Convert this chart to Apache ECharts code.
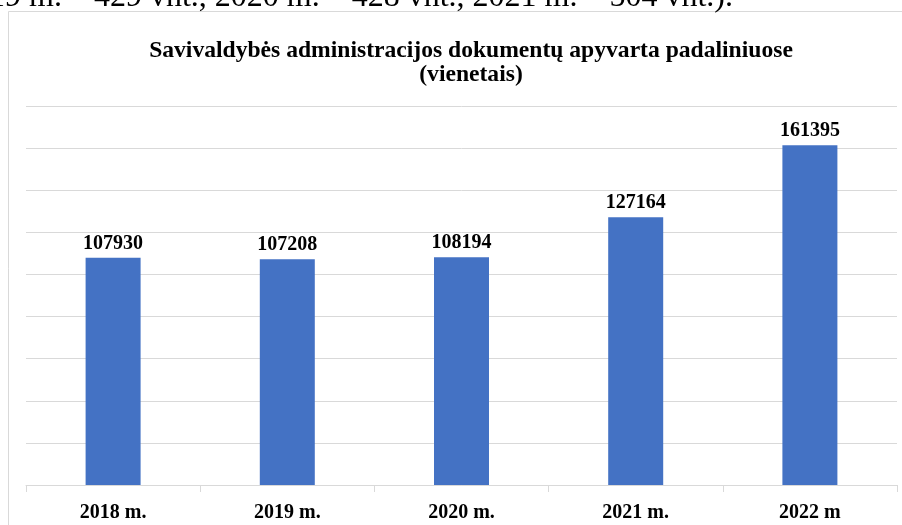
<!DOCTYPE html>
<html>
<head>
<meta charset="utf-8">
<script src="https://cdn.jsdelivr.net/npm/echarts@6/dist/echarts.min.js"></script>
<style>
  html, body { margin: 0; padding: 0; background: #ffffff; }
  #chart { width: 902px; height: 525px; }
</style>
</head>
<body>
<div id="chart"></div>
<script>
// Document flow per year (units)
const categories = ['2018 m.', '2019 m.', '2020 m.', '2021 m.', '2022 m'];
const values = [107930, 107208, 108194, 127164, 161395];
const titleLines = ['Savivaldybės administracijos dokumentų apyvarta padaliniuose', '(vienetais)'];
const precedingText = '2019 m. – 429 vnt., 2020 m. – 428 vnt., 2021 m. – 504 vnt.).';

const serif = '"Liberation Serif", "Times New Roman", serif';
const gridGray = '#d9d9d9';

const chart = echarts.init(document.getElementById('chart'), null, { renderer: 'canvas' });

chart.setOption({
  animation: false,
  backgroundColor: '#ffffff',
  title: {
    text: titleLines.join('\n'),
    left: 466,
    top: 34,
    textAlign: 'center',
    textStyle: {
      fontFamily: serif,
      fontWeight: 'bold',
      fontSize: 23.6,
      lineHeight: 24,
      color: '#000000'
    }
  },
  graphic: [
    {
      // tail of the paragraph sitting above the chart frame
      type: 'text',
      x: 733,
      y: 14,
      style: {
        text: precedingText,
        fontFamily: serif,
        fontSize: 32,
        fill: '#000000',
        textAlign: 'right',
        textVerticalAlign: 'bottom'
      },
      z: 10
    },
    {
      type: 'rect',
      shape: { x: 8.5, y: 11.5, width: 1000, height: 1000 },
      style: { fill: 'none', stroke: gridGray, lineWidth: 1 },
      z: -1
    }
  ],
  grid: {
    left: 26,
    right: 5,
    top: 106,
    bottom: 40,
    containLabel: false
  },
  xAxis: {
    type: 'category',
    data: categories,
    axisLine: { show: true, lineStyle: { color: gridGray, width: 1 } },
    axisTick: { show: true, alignWithLabel: false, length: 7, lineStyle: { color: gridGray } },
    axisLabel: {
      fontFamily: serif,
      fontWeight: 'bold',
      fontSize: 20,
      color: '#000000',
      margin: 18
    }
  },
  yAxis: {
    type: 'value',
    min: 0,
    max: 180000,
    interval: 20000,
    axisLine: { show: false },
    axisTick: { show: false },
    axisLabel: { show: false },
    splitLine: { show: true, lineStyle: { color: gridGray, width: 1 } }
  },
  series: [
    {
      type: 'bar',
      data: values,
      barWidth: 55,
      itemStyle: { color: '#4472c4' },
      label: {
        show: true,
        position: 'top',
        distance: 4,
        fontFamily: serif,
        fontWeight: 'bold',
        fontSize: 20,
        color: '#000000'
      }
    }
  ]
});
</script>
</body>
</html>
